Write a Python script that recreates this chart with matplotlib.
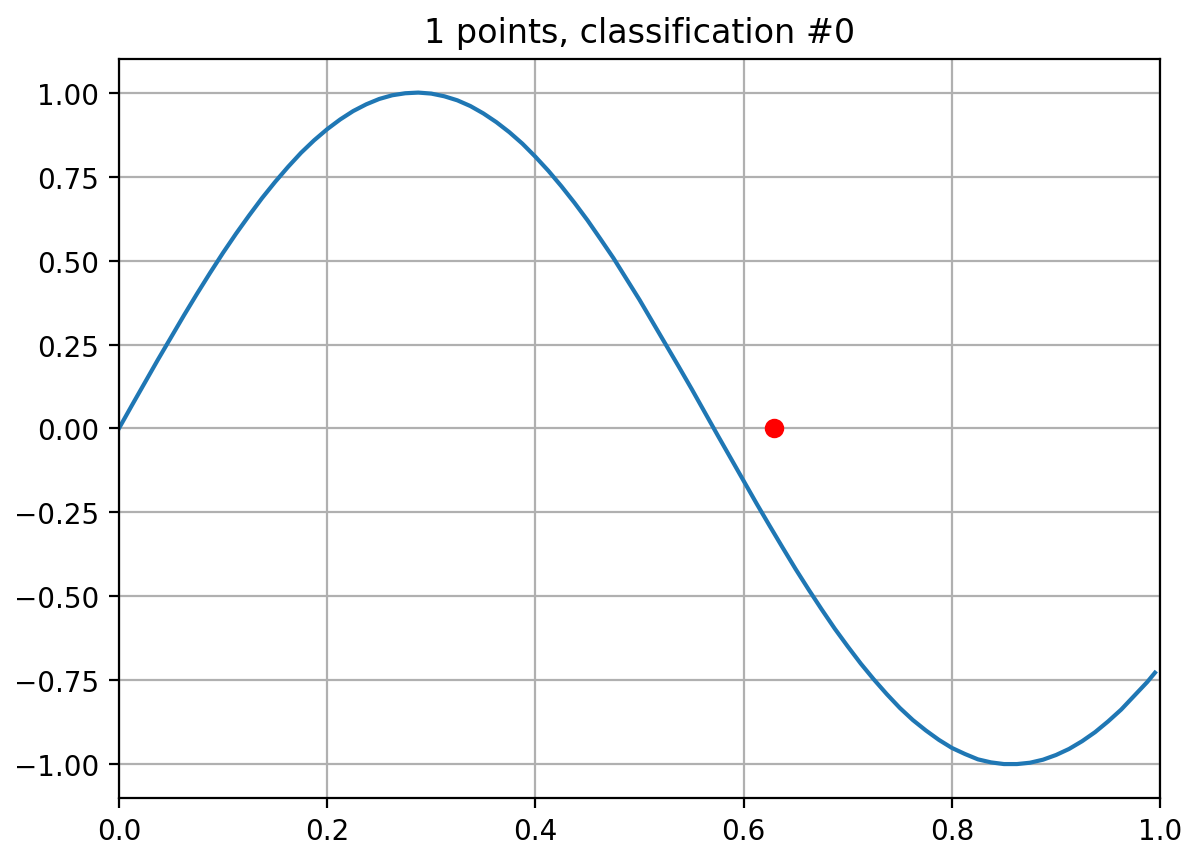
import matplotlib
matplotlib.use("Agg")
import matplotlib.pyplot as plt

# curve values
curve_x = [0.0, 0.0125, 0.025, 0.0375, 0.05, 0.0625, 0.075, 0.0875, 0.1, 0.1125,
           0.125, 0.1375, 0.15, 0.1625, 0.175, 0.1875, 0.2, 0.2125, 0.225, 0.2375,
           0.25, 0.2625, 0.275, 0.2875, 0.3, 0.3125, 0.325, 0.3375, 0.35, 0.3625,
           0.375, 0.3875, 0.4, 0.4125, 0.425, 0.4375, 0.45, 0.4625, 0.475, 0.4875,
           0.5, 0.5125, 0.525, 0.5375, 0.55, 0.5625, 0.575, 0.5875, 0.6, 0.6125,
           0.625, 0.6375, 0.65, 0.6625, 0.675, 0.6875, 0.7, 0.7125, 0.725, 0.7375,
           0.75, 0.7625, 0.775, 0.7875, 0.8, 0.8125, 0.825, 0.8375, 0.85, 0.8625,
           0.875, 0.8875, 0.9, 0.9125, 0.925, 0.9375, 0.95, 0.9625, 0.975, 0.9875,
           0.995]
curve_y = [0.0, 0.069, 0.137, 0.205, 0.271, 0.337, 0.401, 0.463, 0.523, 0.580,
           0.634, 0.686, 0.734, 0.779, 0.821, 0.858, 0.891, 0.920, 0.945, 0.965,
           0.981, 0.992, 0.998, 1.000, 0.997, 0.989, 0.977, 0.960, 0.938, 0.912,
           0.882, 0.848, 0.809, 0.767, 0.721, 0.672, 0.620, 0.564, 0.507, 0.445,
           0.383, 0.317, 0.251, 0.185, 0.118, 0.049, -0.020, -0.088, -0.156, -0.224,
           -0.290, -0.355, -0.419, -0.480, -0.539, -0.596, -0.649, -0.700, -0.747, -0.791,
           -0.832, -0.868, -0.899, -0.927, -0.951, -0.969, -0.985, -0.994, -0.999, -0.999,
           -0.995, -0.986, -0.972, -0.954, -0.931, -0.904, -0.872, -0.837, -0.796, -0.755,
           -0.727]

point_x = [0.629]
point_y = [0.0]

fig = plt.figure(figsize=(6.005, 4.31), dpi=200)
ax = fig.add_subplot(111)
fig.subplots_adjust(left=0.099, right=0.966, top=0.9304, bottom=0.0731)
ax.plot(curve_x, curve_y, color="#1f77b4")
ax.plot(point_x, point_y, "ro")
ax.set_xlim(0, 1)
ax.set_ylim(-1.1, 1.1)
ax.set_yticks([-1.0, -0.75, -0.5, -0.25, 0.0, 0.25, 0.5, 0.75, 1.0])
ax.grid(True)
ax.set_title("1 points, classification #0")
fig.savefig("out.png", dpi=200)
